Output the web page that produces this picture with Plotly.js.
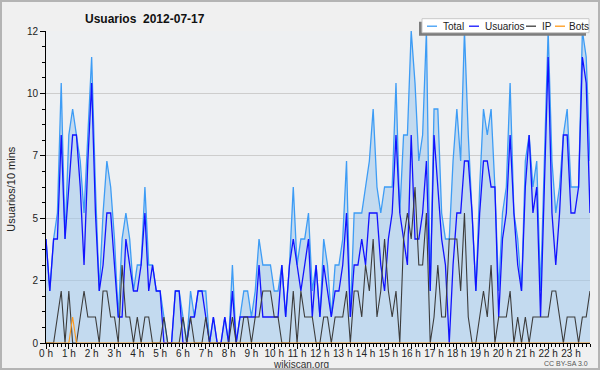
<!DOCTYPE html>
<html><head><meta charset="utf-8">
<script src="https://cdn.plot.ly/plotly-3.0.1.min.js"></script>
<style>
html,body{margin:0;padding:0;background:#f0f0f0;}
#wrap{position:relative;width:600px;height:370px;}
#chart{width:600px;height:370px;}
#frame{position:absolute;left:0;top:0;width:600px;height:370px;box-sizing:border-box;border:2px solid #b4b4b4;pointer-events:none;}
</style>
</head><body><div id="wrap"><div id="chart"></div><div id="frame"></div></div>
<script>
// Users per 10-minute slot, 2012-07-17 (144 slots)
const total = [4,2,4,5,10,4,8,9,8,7,5,8,11,6,2,5,7,6,4,1,4,5,4,2,
  3,3,6,3,3,2,2,1,0,0,2,2,1,0,2,1,2,2,2,0,1,0,0,1,
  0,3,0,1,2,2,1,2,4,3,3,3,2,2,3,1,3,6,3,4,4,5,2,3,
  1,4,3,1,3,3,4,7,1,5,5,5,6,7,9,6,5,6,6,6,10,5,8,8,
  12,10,7,8,12,2,9,9,5,4,4,7,9,7,12,8,5,2,6,9,8,9,6,2,
  5,6,10,5,4,2,7,8,6,7,2,7,12,7,5,6,8,9,6,6,6,12,11,7];
const usuarios = [4,2,4,4,8,4,6,8,8,6,3,7,10,5,2,3,5,5,3,1,1,4,3,2,
  2,3,5,2,3,2,2,0,0,0,2,2,0,0,1,1,2,2,1,0,1,0,0,1,
  0,2,0,1,1,1,1,1,3,1,1,1,1,1,3,1,3,4,3,2,3,4,1,3,
  1,3,2,1,2,2,3,5,1,3,3,4,3,5,5,5,3,2,4,5,8,5,4,3,
  8,4,4,5,7,2,8,6,4,3,0,3,5,5,7,7,5,2,5,7,7,6,6,1,
  4,5,8,5,3,2,6,8,5,6,1,6,11,5,3,5,8,8,5,5,6,11,10,5];
const ip = [0,0,0,1,2,0,2,0,0,1,2,1,1,1,0,2,2,1,1,0,3,1,1,0,
  1,0,1,1,0,0,0,1,0,0,0,0,1,0,1,0,0,0,1,0,0,0,0,0,
  0,1,0,0,1,1,0,1,1,2,2,2,1,1,0,0,0,2,0,2,1,1,1,0,
  0,1,1,0,1,1,1,2,0,2,2,1,3,2,4,1,2,4,2,1,2,0,4,5,
  4,6,3,3,5,0,1,3,1,1,4,4,4,2,5,1,0,0,1,2,1,3,0,1,
  1,1,2,0,1,0,1,0,1,1,1,1,1,2,2,1,0,1,1,1,0,1,1,2];
const bots = [0,0,0,0,0,0,0,1,0,0,0,0,0,0,0,0,0,0,0,0,0,0,0,0,
  0,0,0,0,0,0,0,0,0,0,0,0,0,0,0,0,0,0,0,0,0,0,0,0,
  0,0,0,0,0,0,0,0,0,0,0,0,0,0,0,0,0,0,0,0,0,0,0,0,
  0,0,0,0,0,0,0,0,0,0,0,0,0,0,0,0,0,0,0,0,0,0,0,0,
  0,0,0,0,0,0,0,0,0,0,0,0,0,0,0,0,0,0,0,0,0,0,0,0,
  0,0,0,0,0,0,0,0,0,0,0,0,0,0,0,0,0,0,0,0,0,0,0,0];
const hourTicks = [0,1,2,3,4,5,6,7,8,9,10,11,12,13,14,15,16,17,18,19,20,21,22,23];
const hourLabels = ["0 h","1 h","2 h","3 h","4 h","5 h","6 h","7 h","8 h","9 h","10 h","11 h",
  "12 h","13 h","14 h","15 h","16 h","17 h","18 h","19 h","20 h","21 h","22 h","23 h"];
const yTickVals = [0,2.4,4.8,7.2,9.6,12];
const yTickText = ["0","2","5","7","10","12"];
const seriesNames = ["Total","Usuarios","IP","Bots"];
const seriesColors = ["#3d9cf5","#1212ff","#3c3c3c","#ff9a1a"];

// time of each 10-minute slot, in hours
const slotHours = total.map((_, i) => i / 6);

const FONT = "'Liberation Sans',Arial,sans-serif";
const L = 46, R = 590, T = 31.3, B = 343.3;
const px = v => (v - L) / (R - L);
const py = v => (B - v) / (B - T);

const traces = [
  {x: slotHours, y: total, name: seriesNames[0], type: 'scatter', mode: 'lines',
   line: {color: seriesColors[0], width: 1.3}, fill: 'tozeroy', fillcolor: 'rgba(160,200,236,0.55)'},
  {x: slotHours, y: usuarios, name: seriesNames[1], type: 'scatter', mode: 'lines',
   line: {color: seriesColors[1], width: 1.3}},
  {x: slotHours, y: ip, name: seriesNames[2], type: 'scatter', mode: 'lines',
   line: {color: seriesColors[2], width: 1.1}},
  {x: slotHours, y: bots, name: seriesNames[3], type: 'scatter', mode: 'lines',
   line: {color: seriesColors[3], width: 1.1}}
];

// manual legend
const legX = [427, 469, 526, 555];
const legTextX = [442, 484, 541, 568];
const legY = 26.5;
const shapes = [
  {type:'rect', xref:'paper', yref:'paper', x0:px(419), x1:px(586), y0:py(22), y1:py(36),
   fillcolor:'#7d7d7d', line:{width:0}, layer:'above'},
  {type:'rect', xref:'paper', yref:'paper', x0:px(422), x1:px(589), y0:py(19), y1:py(33),
   fillcolor:'#ffffff', line:{color:'#c8c8c8', width:1}, layer:'above'}
];
const annotations = [];
seriesNames.forEach((n, k) => {
  shapes.push({type:'line', xref:'paper', yref:'paper', x0:px(legX[k]), x1:px(legX[k]+10),
    y0:py(legY), y1:py(legY), line:{color:seriesColors[k], width:1.3}, layer:'above'});
  annotations.push({text:n, xref:'paper', yref:'paper', x:px(legTextX[k]), y:py(legY),
    xanchor:'left', yanchor:'middle', showarrow:false, borderpad:0,
    font:{family:FONT, size:10, color:'#222'}});
});
annotations.push({text:'wikiscan.org', xref:'paper', yref:'paper', x:px(301), y:py(364.5),
  xanchor:'center', yanchor:'middle', showarrow:false, borderpad:0, font:{family:FONT, size:10, color:'#333'}});
annotations.push({text:'CC BY-SA 3.0', xref:'paper', yref:'paper', x:px(589), y:py(364),
  xanchor:'right', yanchor:'middle', showarrow:false, borderpad:0, font:{family:FONT, size:7, color:'#555'}});
annotations.push({text:'Usuarios/10 mins', xref:'paper', yref:'paper', x:px(11), y:py(190),
  xanchor:'center', yanchor:'middle', textangle:-90, showarrow:false, font:{family:FONT, size:11, color:'#222'}});

const layout = {
  width: 600, height: 370,
  paper_bgcolor: '#f0f0f0', plot_bgcolor: '#eef0f2',
  margin: {l: L, r: 600 - R, t: T, b: 370 - B, pad: 0},
  showlegend: false,
  title: {text: 'Usuarios\u00a0\u00a02012-07-17', x: 85/600, xanchor: 'left', y: 1 - 18.5/370, yanchor: 'middle',
    font: {family: FONT, size: 12, weight: 'bold', color: '#111'}},
  xaxis: {range: [0, 143/6], tickmode: 'array', tickvals: hourTicks, ticktext: hourLabels, tickangle: 0,
    showgrid: false, zeroline: false, showline: true, linecolor: '#000', linewidth: 1,
    ticks: 'outside', ticklen: 5, tickcolor: '#000', ticklabelstandoff: -4,
    minor: {tickmode: 'linear', tick0: 0, dtick: 1/6, ticks: 'outside', ticklen: 3, tickcolor: '#000', showgrid: false},
    tickfont: {family: FONT, size: 10, color: '#222'}},
  yaxis: {range: [0, 12], tickmode: 'array', tickvals: yTickVals, ticktext: yTickText,
    showgrid: true, gridcolor: '#cdcdcd', gridwidth: 1, zeroline: false,
    showline: true, linecolor: '#000', linewidth: 1,
    ticks: 'outside', ticklen: 5, tickcolor: '#000',
    minor: {tickmode: 'linear', tick0: 0, dtick: 0.6, ticks: 'outside', ticklen: 3, tickcolor: '#000', showgrid: false},
    tickfont: {family: FONT, size: 10, color: '#222'}},
  shapes: shapes,
  annotations: annotations
};

Plotly.newPlot('chart', traces, layout, {staticPlot: true, displayModeBar: false});
</script>
</body></html>
